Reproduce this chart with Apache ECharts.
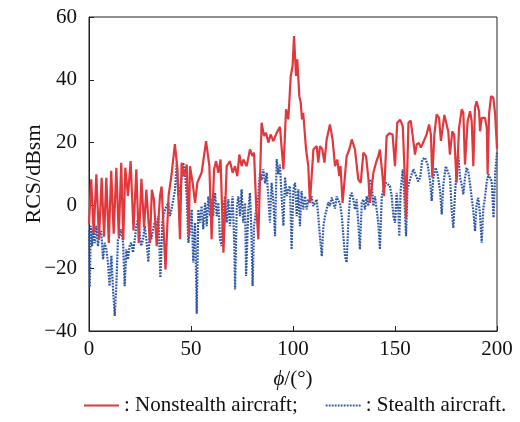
<!DOCTYPE html>
<html>
<head>
<meta charset="utf-8">
<script src="https://cdn.jsdelivr.net/npm/echarts@6/dist/echarts.min.js"></script>
<style>
html,body{margin:0;padding:0;background:#fff;}
#chart{width:520px;height:422px;}
</style>
</head>
<body>
<div id="chart"></div>
<script>
const nonstealthPhi = [0,1.1,2.3,3.6,4.9,6.2,7.4,8.5,9.7,10.9,12.1,13.4,14.6,15.8,16.8,17.8,19.1,20.4,21.8,23.2,24.4,25.7,27,28.1,29.9,30.8,31.8,33.2,34.8,35.6,37.5,39,40.5,42.1,43.3,44.6,45.4,46.6,47.9,48.9,49.5,50.8,52,53.1,54.1,55.2,57.4,59,60.1,61.3,62.3,63.4,64.5,65.9,67.5,69.1,70.4,71.6,72.7,73.7,74.8,75.7,77.3,78.9,80.2,80.9,81.9,83,84.6,85.8,86.8,87.9,89,90.4,92,93.6,95.3,96.6,97.7,98.9,99.8,100.5,101.5,102.1,103.1,103.8,104.4,105,106.4,107.5,108.3,110,111.6,112.4,113.2,114.4,115.4,116.5,118.1,119.4,120.6,121.7,122.7,123.3,124.3,126.3,127.6,128.8,130.4,132,133.2,134.5,135.8,137,137.7,139.4,140.7,141.8,142.6,143.9,144.6,145.9,147.2,148.8,150,151.1,152.5,153.8,155,155.4,156.6,157.7,158.7,159.8,160.6,161.7,162.7,163.4,164.3,165.5,166.7,167.6,168.3,169.3,170.4,171.6,172.5,174.2,175.3,176.1,176.9,178.1,179,180.2,181.4,182.7,183.5,184.3,185.6,186.8,187.6,188.4,189.2,190,191.2,191.7,192.5,194.1,195,195.4,196.1,197.1,198.2,199.1,200];
const nonstealthRCS = [-6,8.3,-9,9.9,-11,8.8,-10,8.8,-12,11,-9,12,-10,13.6,-11,12,3,14.1,-8,11.5,-12,8.5,-7,5,-12,5,2,-13,3,6,-20.4,3,10,19.5,12,-10.8,13.6,9.3,13,-9.8,12.5,7.2,0.8,7.2,8.8,10.4,20.5,12.5,-10.8,11.5,14.1,10.4,14.6,-15.1,12.5,14.1,10.4,12.5,9.3,16.2,12.5,14.6,12.5,17.8,15.7,16.8,0.8,-10.8,26.3,22.1,23.1,20,22.6,20.5,23.1,25,11.5,30.6,27.4,41.2,44.4,53.9,41.2,46.5,34.8,32.7,27.4,29.5,17.8,12.5,0.8,17.8,18.9,13.6,18.9,17.8,13.6,21,25.8,21,12.5,14.6,9.3,12.5,0.8,15.7,17.8,21,17.8,8.3,7.2,16.8,15.7,8.3,0.8,10.4,13.6,15.7,17.8,9.3,2.9,22,23,22.6,12.5,26.3,27.3,25.3,6,-4.2,26.3,27,22,16.2,19.4,19.9,18.4,19.4,19.9,22.6,25.8,22.6,8.8,22.6,29,27.9,20.5,28.8,25.8,23.6,16.2,23.6,22.6,7.2,24.7,30.6,29.5,13,26.8,30,26.8,12.5,31.1,33.2,30,23.6,27.9,27.9,24.7,9.9,29,34.8,34.3,29,18];

const stealthPhi = [0,0.4,0.9,1.5,2,2.8,3.6,4.4,5.2,6,6.9,7.7,8.5,9.3,10.1,11,11.8,12.6,13.4,14.2,15,15.8,16.7,17.5,18.3,19.1,19.9,20.7,21.6,22.4,23.2,24,24.8,25.6,26.5,27.3,28.1,29.1,29.9,30.5,31.4,32.2,33,34,35,36,37,38,38.9,39.7,40.5,41.3,42.2,43,43.8,44.6,45.4,46.2,47.1,47.9,48.7,49.5,50.3,51.1,52,52.8,53.6,54.4,55.2,56,56.9,57.7,58.5,59.3,60.1,60.9,61.8,62.6,63.4,64.2,65,65.8,66.7,67.5,68.3,69.1,70.4,71.2,71.6,72.4,73.2,74,74.8,75.6,76.5,77,78.1,78.9,79.6,80.2,80.9,82.2,83,83.8,84.6,85.4,86.3,87.1,87.9,88.7,89.5,90.4,91.2,92,92.8,93.6,94.4,95.3,96.1,96.9,97.7,98.5,99.3,100.2,101,101.8,102.6,103.4,104.2,105,105.9,106.7,107.5,108.3,109.1,109.9,110.8,111.6,112.4,113.2,114.1,114.9,115.7,116.5,117.3,118.1,119,119.8,120.6,121.4,122.2,123,123.9,124.7,125.5,126.3,127.1,128,128.8,129.6,130.4,131.2,132,132.8,133.7,134.5,135.3,136.1,136.9,137.7,138.6,139.4,140.2,141,141.8,142.6,143.5,144.3,145.6,146.3,147.5,148.4,149.2,150,150.8,151.6,152.1,152.8,153.8,154.4,155.4,156.1,157.4,158.2,159,159.8,160.6,161.4,162.3,163.4,164.7,166,167.2,168,168.8,169.9,170.9,172.1,172.9,173.7,174.9,175.8,177,177.8,178.6,179.4,180.2,181,181.9,182.7,183.5,184.3,185.1,185.9,186.8,187.6,188.4,189.2,190,190.8,191.7,192.5,193.3,194.1,195,195.8,196.6,197.4,198.3,199.1,200];
const stealthRCS = [-8,-26,-6.5,-13,-7.6,-12,-6.5,-13,-9,-8.2,-17.2,-11.9,-14,-18.2,-25.7,-16,-27,-35.2,-25.7,-11,-9.8,-7.6,-12,-25.7,-14,-17.2,-13,-11.9,-15,-11,-6.5,-4.5,-8.7,-12.9,-10.8,-6.5,-10.8,-18,-6.6,-10.8,-7.6,-5.5,-6.5,-3.4,-23,-5,-2,-0.2,0.8,-3.4,-1,-1.3,5,13.6,3,2.9,8.3,13.6,10,2.9,-11.9,-8,-1.3,-18.2,-5.5,-34.5,-1.3,-5.5,-0.2,-7.6,0.8,-6.6,2.9,-3.4,1.9,-3.4,4,-3.4,0.8,-10.8,-12.9,-1.3,2.9,-5.5,1.9,-6.6,2.9,-11.9,-26.8,-1.3,2.9,-3.4,5.1,-5.5,0.8,-22.5,-1.3,4,-8,-25.7,-6.6,-0.2,2.9,10.4,8,11.5,7,10.4,2.9,-5.5,7.2,1,-9.8,14.7,10,13,2.9,-6.5,9,3,5,6.2,-14,5.1,7.2,-3.4,5.1,-6.6,4.6,-1.3,2.9,-1.3,1.9,0.8,2.9,-0.2,0.8,1.9,-3.4,-9.8,-16.2,-6.6,-3.4,-1.3,1,-0.2,2.5,1.9,-1,2.9,1.5,0.8,-3.4,-9.8,-16.2,-18.2,-5.5,2.9,4,1.9,-1.3,1.9,-5.5,-14,0.8,1.9,-1.3,2.9,-0.2,8.3,7.2,-0.2,2.9,-1.3,-5.5,-14,2.9,5.1,7.2,7.7,6.2,2.9,-3.4,-5.5,4,-1.3,-9.8,5.1,11.5,5.1,-9.8,5.1,8.3,10,11.5,12,9,7.7,8.8,14.6,15.2,13,7.7,1.4,8.8,12,9.9,4.6,-2.9,6.7,12.5,13,8.8,-1.8,-7.2,3.5,10.9,16.2,8.8,6.7,3.5,8.8,12,10.9,6.7,2.4,-1.8,-8.2,0.3,2.4,-2.9,-11.9,-0.8,2.4,7.7,9.9,8.8,7.7,-3.9,9.9,17];

const xTicks = {min: 0, max: 200, interval: 50};
const yTicks = {min: -40, max: 60, interval: 20};

const seriesNames = ['Nonstealth aircraft', 'Stealth aircraft'];
const legendTexts = [': Nonstealth aircraft;', ': Stealth aircraft.'];

const pair = (xs, ys) => xs.map((x, i) => [x, ys[i]]);
const FONT = '"Liberation Serif", "Times New Roman", serif';
const RED = '#e0383d';
const BLUE = '#2f57a8';

const chart = echarts.init(document.getElementById('chart'), null, {renderer: 'canvas'});
chart.setOption({
  animation: false,
  backgroundColor: '#fff',
  grid: {left: 89, right: 23, top: 17, bottom: 91, show: true, borderColor: '#222', borderWidth: 1, containLabel: false},
  legend: {
    left: 83, top: 395, padding: 0, itemWidth: 35, itemHeight: 12, itemGap: 27,
    data: seriesNames,
    itemStyle: {opacity: 0},
    formatter: name => legendTexts[seriesNames.indexOf(name)],
    textStyle: {fontFamily: FONT, fontSize: 21, color: '#111'}
  },
  xAxis: {
    type: 'value', min: xTicks.min, max: xTicks.max, interval: xTicks.interval,
    name: '{i|ϕ}/(°)', nameLocation: 'middle', nameGap: 38,
    nameTextStyle: {fontFamily: FONT, fontSize: 21, color: '#111',
      rich: {i: {fontFamily: FONT, fontStyle: 'italic', fontSize: 21, color: '#111'}}},
    axisLine: {show: true, onZero: false, lineStyle: {color: '#222', width: 1}},
    axisTick: {show: true, inside: true, length: 5, lineStyle: {color: '#222'}},
    axisLabel: {fontFamily: FONT, fontSize: 21, color: '#111', margin: 8},
    splitLine: {show: false}
  },
  yAxis: {
    type: 'value', min: yTicks.min, max: yTicks.max, interval: yTicks.interval,
    name: 'RCS/dBsm', nameLocation: 'middle', nameGap: 44, nameRotate: 90,
    nameMoveOverlap: false,
    nameTextStyle: {fontFamily: FONT, fontSize: 22, color: '#111'},
    axisLine: {show: true, onZero: false, lineStyle: {color: '#222', width: 1}},
    axisTick: {show: true, inside: true, length: 5, lineStyle: {color: '#222'}},
    axisLabel: {fontFamily: FONT, fontSize: 21, color: '#111', margin: 12,
      formatter: v => String(v).replace('-', '\u2212')},
    splitLine: {show: false}
  },
  series: [
    {
      name: seriesNames[0], type: 'line', symbol: 'none', z: 3,
      data: pair(nonstealthPhi, nonstealthRCS),
      lineStyle: {color: RED, width: 2.2},
      itemStyle: {color: RED}
    },
    {
      name: seriesNames[1], type: 'line', symbol: 'none', z: 2,
      data: pair(stealthPhi, stealthRCS),
      lineStyle: {color: BLUE, width: 2.2, type: [1.8, 1.2]},
      itemStyle: {color: BLUE}
    }
  ]
});
</script>
</body>
</html>
